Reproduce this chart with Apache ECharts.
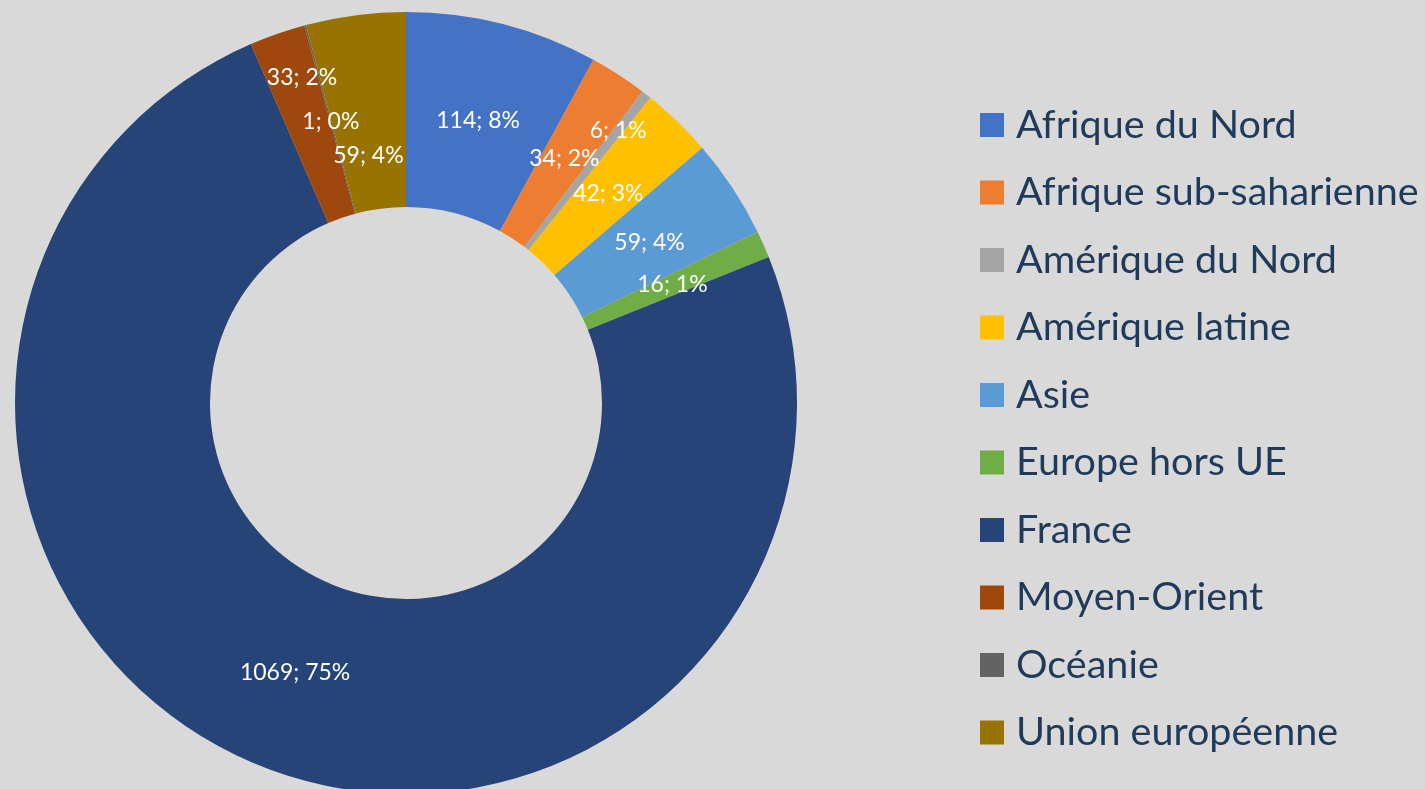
<!DOCTYPE html>
<html>
<head>
<meta charset="utf-8">
<script src="https://cdn.jsdelivr.net/npm/echarts@6/dist/echarts.min.js"></script>
<style>
  html, body { margin: 0; padding: 0; background: #d9d9d9; }
  #chart { width: 1425px; height: 789px; }
</style>
</head>
<body>
<div id="chart"></div>
<script>
var regions = ['Afrique du Nord', 'Afrique sub-saharienne', 'Amérique du Nord', 'Amérique latine',
  'Asie', 'Europe hors UE', 'France', 'Moyen-Orient', 'Océanie', 'Union européenne'];
var counts = [114, 34, 6, 42, 59, 16, 1069, 33, 1, 59];
var pcts = [8, 2, 1, 3, 4, 1, 75, 2, 0, 4];

var colors = ['#4472c4', '#ed7d31', '#a5a5a5', '#ffc000', '#5b9bd5',
  '#70ad47', '#264478', '#9e480e', '#636363', '#997300'];

var pieCenter = [406, 403];

// labels Excel pushed aside to avoid overlaps
var labelShift = {2: [33, -43], 7: [-8, -50], 9: [0, 42]};

var chart = echarts.init(document.getElementById('chart'));

chart.setOption({
  backgroundColor: '#d9d9d9',
  color: colors,
  animation: false,
  legend: {
    orient: 'vertical',
    left: 975,
    top: 100,
    itemWidth: 24,
    itemHeight: 24,
    itemGap: 27.5,
    icon: 'rect',
    data: regions,
    textStyle: {
      fontFamily: 'Lato',
      fontSize: 39.5,
      lineHeight: 40,
      color: '#1f3a5a',
      padding: [0, 0, 0, 7]
    }
  },
  series: [{
    type: 'pie',
    center: pieCenter,
    radius: [196, 391],
    startAngle: 90,
    clockwise: true,
    avoidLabelOverlap: false,
    label: {
      show: true,
      position: 'inside',
      color: '#ffffff',
      fontFamily: 'Lato',
      fontSize: 23,
      formatter: function (p) {
        return counts[p.dataIndex] + '; ' + pcts[p.dataIndex] + '%';
      }
    },
    labelLayout: function (p) {
      // pull labels slightly towards the centre, then apply manual shifts
      var r = p.labelRect;
      var vx = r.x + r.width / 2 - pieCenter[0];
      var vy = r.y + r.height / 2 - pieCenter[1];
      var len = Math.sqrt(vx * vx + vy * vy) || 1;
      var dx = -5 * vx / len, dy = -5 * vy / len;
      var s = labelShift[p.dataIndex];
      if (s) { dx += s[0]; dy += s[1]; }
      return {dx: dx, dy: dy};
    },
    labelLine: {show: false},
    itemStyle: {borderWidth: 0},
    emphasis: {disabled: true},
    data: regions.map(function (name, i) {
      return {name: name, value: counts[i]};
    })
  }]
});
</script>
</body>
</html>
